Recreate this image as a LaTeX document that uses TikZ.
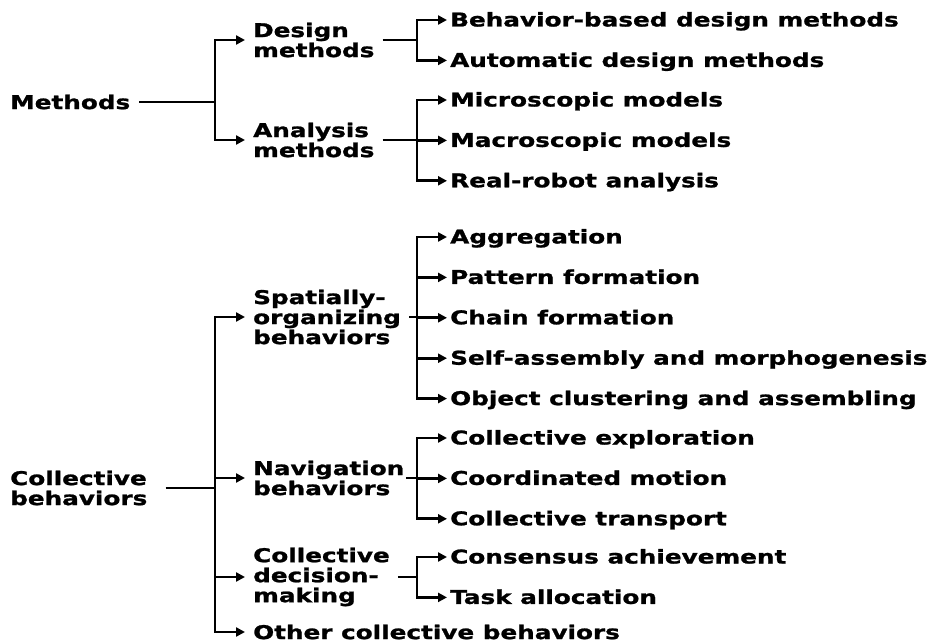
\documentclass[tikz,border=0pt]{standalone}
\usepackage{fontspec}
\setmainfont[FakeStretch=1.3,BoldFeatures={FakeBold=1.2}]{DejaVu Sans}
\usetikzlibrary{arrows.meta,positioning}

\begin{document}
\begin{tikzpicture}[x=1pt,y=-1pt,font=\bfseries\fontsize{19}{20}\selectfont,
  root/.style={anchor=west,align=left,inner xsep=9pt,inner ysep=0pt},
  mid/.style={anchor=west,align=left,inner xsep=8pt,inner ysep=0pt},
  leaf/.style={anchor=west,inner xsep=3pt,inner ysep=0pt,text height=15pt,text depth=2pt},
  ln/.style={line width=2.8pt},
  ar/.style={ln,-{Triangle[length=9pt,width=9pt]}}]
 \useasboundingbox (0,0) rectangle (932,644);
 \node[root] (meth) at (1,102) {Methods};
 \node[root] (coll) at (1,488) {Collective\\behaviors};
 \node[mid] (des) at (245,40) {Design\\methods};
 \node[mid] (ana) at (245,140) {Analysis\\methods};
 \node[mid] (spat) at (245,317) {Spatially-\\organizing\\behaviors};
 \node[mid] (nav) at (245,478) {Navigation\\behaviors};
 \node[mid] (dec) at (245,577) {Collective\\decision-\\making};
 \node[mid] (oth) at (245,632) {Other collective behaviors};
 \node[leaf] (beh) at (447,20) {Behavior-based design methods};
 \node[leaf, below=23pt of beh.south west, anchor=north west] (aut) {Automatic design methods};
 \node[leaf] (mic) at (447,100) {Microscopic models};
 \node[leaf, below=23pt of mic.south west, anchor=north west] (mac) {Macroscopic models};
 \node[leaf, below=23pt of mac.south west, anchor=north west] (rea) {Real-robot analysis};
 \node[leaf] (agg) at (447,237) {Aggregation};
 \node[leaf, below=23pt of agg.south west, anchor=north west] (pat) {Pattern formation};
 \node[leaf, below=23pt of pat.south west, anchor=north west] (cha) {Chain formation};
 \node[leaf, below=23pt of cha.south west, anchor=north west] (self) {Self-assembly and morphogenesis};
 \node[leaf, below=23pt of self.south west, anchor=north west] (obj) {Object clustering and assembling};
 \node[leaf] (exp) at (447,438) {Collective exploration};
 \node[leaf, below=23pt of exp.south west, anchor=north west] (coo) {Coordinated motion};
 \node[leaf, below=23pt of coo.south west, anchor=north west] (tra) {Collective transport};
 \node[leaf] (con) at (447,557) {Consensus achievement};
 \node[leaf, below=23pt of con.south west, anchor=north west] (task) {Task allocation};
 \coordinate (mj) at (215,102); \coordinate (cj) at (215,488);
 \coordinate (dj) at (417,40); \coordinate (aj) at (417,140); \coordinate (sj) at (417,317);
 \coordinate (nj) at (417,478); \coordinate (kj) at (417,577);
 \draw[ln] (meth) -- (mj); \draw[ar] (mj) |- (des); \draw[ar] (mj) |- (ana);
 \draw[ln] ([xshift=9pt]coll.east) -- (cj); \draw[ar] (cj) |- (spat); \draw[ar] (cj) |- (nav); \draw[ar] (cj) |- (dec); \draw[ar] (cj) |- (oth);
 \draw[ln] (des) -- (dj); \draw[ar] (dj) |- (beh); \draw[ar] (dj) |- (aut);
 \draw[ln] (ana) -- (aj); \draw[ar] (aj) |- (mic); \draw[ar] (aj) |- (mac); \draw[ar] (aj) |- (rea);
 \draw[ln] (spat) -- (sj); \draw[ar] (sj) |- (agg); \draw[ar] (sj) |- (pat); \draw[ar] (sj) |- (cha); \draw[ar] (sj) |- (self); \draw[ar] (sj) |- (obj);
 \draw[ln] ([xshift=-6pt]nav.east) -- (nj); \draw[ar] (nj) |- (exp); \draw[ar] (nj) |- (coo); \draw[ar] (nj) |- (tra);
 \draw[ln] (dec) -- (kj); \draw[ar] (kj) |- (con); \draw[ar] (kj) |- (task);
\end{tikzpicture}
\end{document}
